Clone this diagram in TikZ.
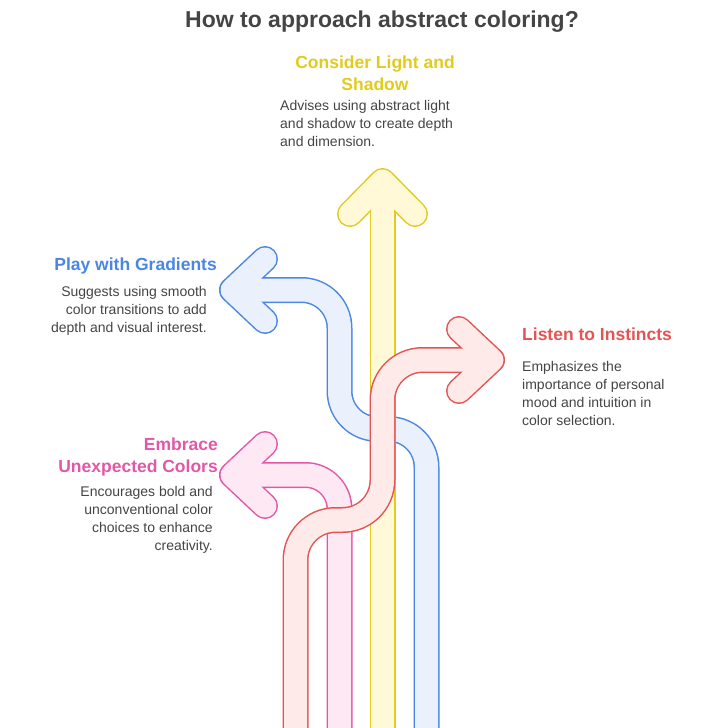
\documentclass[tikz,border=0pt]{standalone}
\usepackage{fontspec}
\setmainfont{Liberation Sans}
\definecolor{ylwline}{HTML}{E2CB1C}\definecolor{ylwfill}{HTML}{FFF9D8}
\definecolor{bluline}{HTML}{4A86E2}\definecolor{blufill}{HTML}{EAF1FD}
\definecolor{redline}{HTML}{E45454}\definecolor{redfill}{HTML}{FFEAEA}
\definecolor{pnkline}{HTML}{E257A8}\definecolor{pnkfill}{HTML}{FDE8F4}
\definecolor{txtgray}{HTML}{444444}
\tikzset{
  heading/.style={font=\fontsize{17.5}{22}\selectfont\bfseries, inner sep=0pt},
  blurb/.style={font=\fontsize{14}{18}\selectfont, text=txtgray, inner sep=0pt},
  shaftline/.style={line width=26pt, line cap=butt, line join=round},
  shaftfill/.style={line width=23pt, line cap=butt, line join=round},
  headline/.style={line width=26pt, line cap=round, line join=round},
  headfill/.style={line width=23pt, line cap=round, line join=round},
}
% arrow: #1 line colour, #2 fill colour, #3 shaft path, #4 head path
\newcommand{\bandarrow}[4]{%
  \draw[shaftline,#1] #3; \draw[headline,#1] #4;
  \draw[shaftfill,#2] #3; \draw[headfill,#2] #4;}
\begin{document}
\begin{tikzpicture}[x=1pt,y=-1pt]
    \useasboundingbox (0,0) rectangle (711,728);
    % coordinates for the arrows
    \coordinate (pinkbase) at (339.5,732);
    \coordinate (bluebase) at (426.5,732);
    \coordinate (ylwbase) at (382.5,732);
    \coordinate (redbase) at (295.5,732);
    % pink
    \bandarrow{pnkline}{pnkfill}
      {[rounded corners=34pt] (pinkbase) -- (339.5,475) -- (234,475)}
      {(265,444) -- (232,475) -- (265,506)}
    % blue
    \bandarrow{bluline}{blufill}
      {[rounded corners=38pt] (bluebase) -- (426.5,429) -- (339.5,429) -- (339.5,290) -- (234,290)}
      {(265,259) -- (232,290) -- (265,321)}
    % yellow
    \bandarrow{ylwline}{ylwfill}
      {(ylwbase) -- (382.5,184)}
      {(350,214) -- (382.5,181) -- (415,214)}
    % red
    \bandarrow{redline}{redfill}
      {[rounded corners=40pt] (redbase) -- (295.5,520) -- (382.5,520) -- (382.5,360) -- (490,360)}
      {(459,329) -- (492,360) -- (459,391)}
    % texts
    \node[heading, text=txtgray, font=\fontsize{23}{26}\selectfont\bfseries] (title) at (382,22) {How to approach abstract coloring?};
    \node[heading, text=ylwline, align=center] (lighthead) at (375,73) {Consider Light and\\Shadow};
    \node[blurb, align=left, anchor=north west] (lighttext) at (280,100) {Advises using abstract light\\and shadow to create depth\\and dimension.};
    \node[heading, text=bluline, anchor=east] (gradhead) at (217,266) {Play with Gradients};
    \node[blurb, align=right, anchor=north east] (gradtext) at (207,286) {Suggests using smooth\\color transitions to add\\depth and visual interest.};
    \node[heading, text=redline, anchor=west] (instinct) at (522,334) {Listen to Instincts};
    \node[blurb, align=left, anchor=north west] (instincttext) at (522,361) {Emphasizes the\\importance of personal\\mood and intuition in\\color selection.};
    \node[heading, text=pnkline, align=right, anchor=east] (embrace) at (218,457) {Embrace\\Unexpected Colors};
    \node[blurb, align=right, anchor=north east] (embracetext) at (213,486) {Encourages bold and\\unconventional color\\choices to enhance\\creativity.};
\end{tikzpicture}
\end{document}
